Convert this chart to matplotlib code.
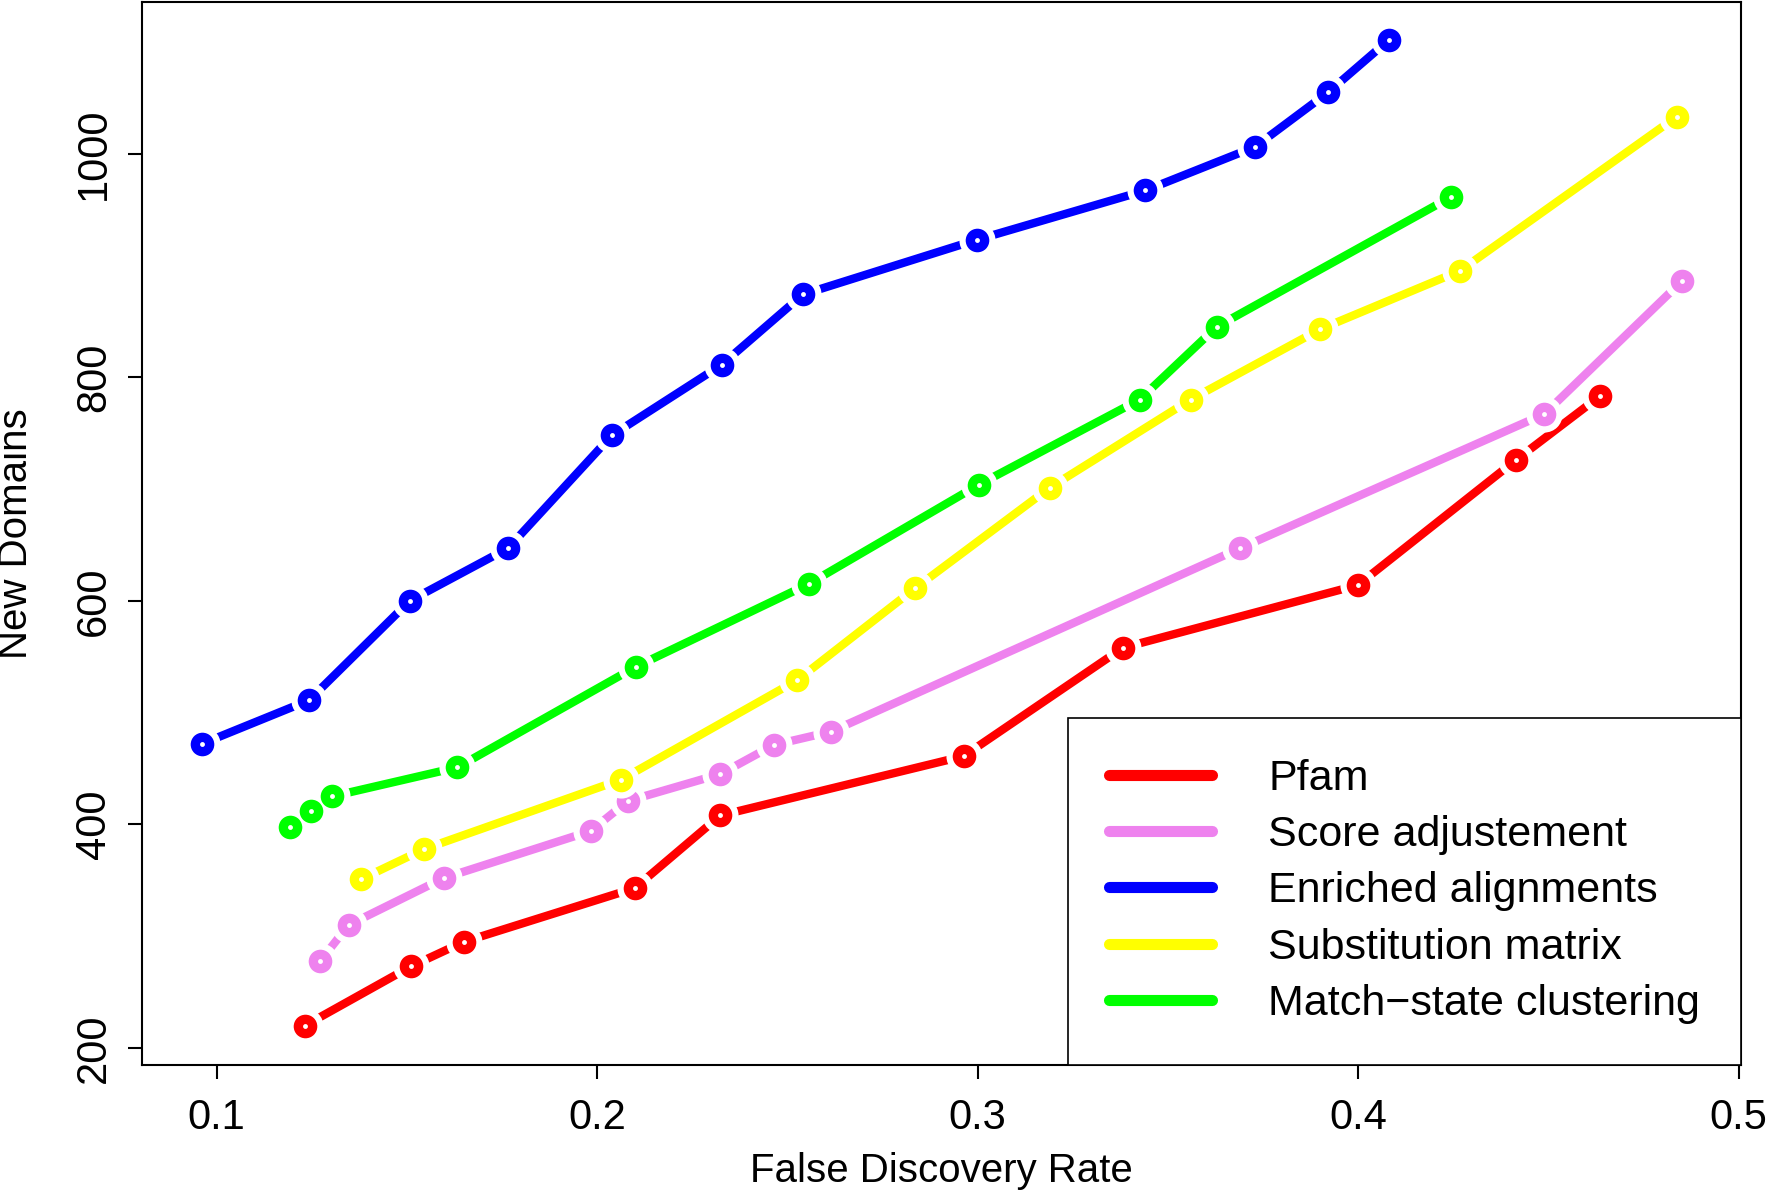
import matplotlib
matplotlib.use("Agg")
import matplotlib.pyplot as plt

plt.rcParams['font.family'] = ['Liberation Sans', 'DejaVu Sans']

# data
pfam_x = [0.1232, 0.1511, 0.165, 0.2099, 0.2324, 0.2963, 0.3382, 0.3999, 0.4415, 0.4635]
pfam_y = [220, 273, 295, 343, 408, 461, 558, 614, 726, 783]

score_x = [0.1273, 0.1347, 0.1597, 0.1983, 0.2081, 0.2324, 0.2464, 0.2615, 0.369, 0.4489, 0.4851]
score_y = [278, 310, 352, 394, 421, 445, 471, 483, 647, 767, 886]

enriched_x = [0.0961, 0.1243, 0.1508, 0.1766, 0.2039, 0.2327, 0.2541, 0.2999, 0.3441, 0.3729, 0.3922, 0.4082]
enriched_y = [472, 511, 600, 647, 748, 811, 874, 923, 967, 1006, 1055, 1102]

subst_x = [0.138, 0.1546, 0.2063, 0.2526, 0.2835, 0.3189, 0.356, 0.3901, 0.4267, 0.4837]
subst_y = [351, 378, 440, 529, 611, 701, 780, 843, 895, 1033]

match_x = [0.1193, 0.1249, 0.1303, 0.1633, 0.2102, 0.2556, 0.3004, 0.3426, 0.3628, 0.4243]
match_y = [398, 412, 425, 451, 541, 615, 704, 780, 845, 961]

names = ["Pfam", "Score adjustement", "Enriched alignments", "Substitution matrix", "Match\u2212state clustering"]
colors = ["#ff0000", "#ee82ee", "#0000ff", "#ffff00", "#00ff00"]
xs = [pfam_x, score_x, enriched_x, subst_x, match_x]
ys = [pfam_y, score_y, enriched_y, subst_y, match_y]

fig = plt.figure(figsize=(17.72, 12), dpi=100)
ax = fig.add_axes([0.0801, 0.1125, 0.9024, 0.8855])

z = 2
for x, y, c, name in zip(xs, ys, colors, names):
    ax.plot(x, y, color=c, lw=6, solid_capstyle='round', label=name, zorder=z)
    # white halo so the line stops short of each point (R type="b")
    ax.plot(x, y, 'o', ms=26, mfc='white', mec='none', zorder=z + 0.1)
    ax.plot(x, y, 'o', ms=17, mfc=c, mec='none', zorder=z + 0.2)
    ax.plot(x, y, 'o', ms=3.5, mfc='white', mec='none', zorder=z + 0.3)
    z += 1

ax.set_xlim(0.0804, 0.5006)
ax.set_ylim(184.8, 1135.2)
ax.set_xticks([0.1, 0.2, 0.3, 0.4, 0.5])
ax.set_xticklabels(["0.1", "0.2", "0.3", "0.4", "0.5"])
ax.set_yticks([200, 400, 600, 800, 1000])
ax.set_yticklabels(["200", "400", "600", "800", "1000"], rotation=90, va='center')
ax.tick_params(labelsize=30, length=10, width=1.5)
ax.tick_params(axis='x', pad=14)
ax.tick_params(axis='y', pad=10)
for s in ax.spines.values():
    s.set_linewidth(1.5)

ax.set_xlabel("False Discovery Rate", fontsize=29)
ax.set_ylabel("New Domains", fontsize=29)
ax.xaxis.set_label_coords(0.5, -0.082)
ax.yaxis.set_label_coords(-0.067, 0.5)

leg = ax.legend(loc='lower right', bbox_to_anchor=(1, 0), borderaxespad=0, fontsize=31,
                handlelength=2.4, handletextpad=1.3, labelspacing=0.38, borderpad=0.95,
                fancybox=False, framealpha=1, edgecolor='black')
leg.get_frame().set_linewidth(1.2)
for h in leg.get_lines():
    h.set_linewidth(8)

fig.savefig("out.png", dpi=100)
